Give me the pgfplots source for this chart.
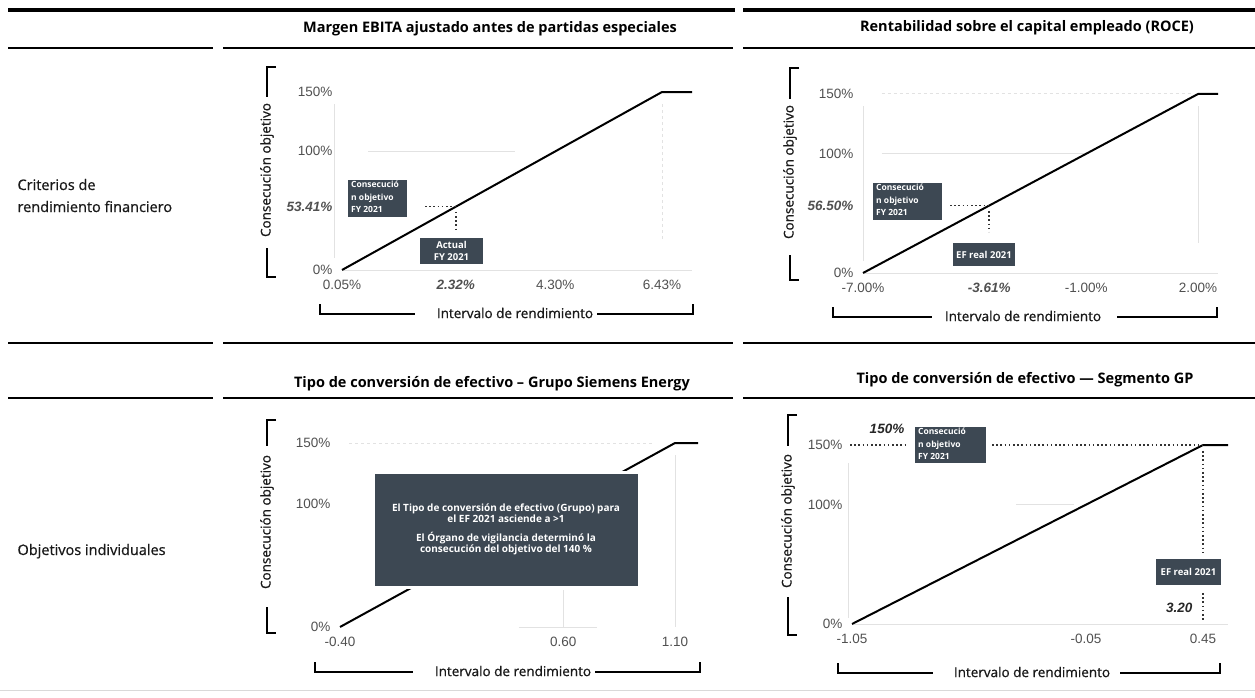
\documentclass[border=0pt]{standalone}
\usepackage{pgfplots}
\pgfplotsset{compat=1.18}
\usepackage{fontspec}
\setmainfont{Open Sans}
\newfontfamily\medfont[FakeBold=0.8]{Open Sans}
\newfontfamily\tickfont{Liberation Sans}
\definecolor{boxc}{HTML}{3D4853}
\definecolor{tickc}{HTML}{505050}
\definecolor{faint}{HTML}{E2E2E2}
\pgfplotsset{
  kpi/.style={
    scale only axis, anchor=south west, clip=false,
    ymin=0, ymax=150, scaled ticks=false,
    axis line style={draw=none}, major tick length=0pt, tick style={draw=none},
    ticklabel style={font=\tickfont\fontsize{13.5}{13.5}\selectfont, text=tickc},
    xticklabel style={yshift=-7pt},
    yticklabel style={xshift=-6pt},
  },
  mainline/.style={black, line width=2pt, no markers},
  guide/.style={black!80, line width=1.6pt, dash pattern=on 1.6pt off 2.6pt, no markers},
  faintline/.style={faint, line width=1pt, no markers},
}
\tikzset{
  lbl/.style={font=\medfont\fontsize{13.5}{13.5}\selectfont, text=black!90},
  rowl/.style={font=\medfont\fontsize{14.5}{14.5}\selectfont, text=black!90},
  ttl/.style={font=\bfseries\fontsize{14.5}{14.5}\selectfont, anchor=base},
  bxt/.style={text=white, font=\bfseries\fontsize{8.5}{12.5}\selectfont, align=left, anchor=north west, inner sep=0pt},
  bx/.style={fill=boxc, draw=white, line width=1.5pt},
  br/.style={black, line width=1.6pt},
}
\begin{document}
\begin{tikzpicture}
\path[use as bounding box] (0pt,0pt) rectangle (1255pt,-698pt);

% Chart 1
\begin{axis}[kpi, at={(342pt,-270pt)}, width=350pt, height=178pt, xmin=0.05, xmax=7.028,
  xtick={0.05,2.32,4.30,6.43}, xticklabels={0.05\%,\textbf{\textit{2.32\%}},4.30\%,6.43\%},
  ytick={0,53.41,100,150}, yticklabels={0\%,\textbf{\textit{53.41\%}},100\%,150\%}]
  \addplot[faintline] coordinates {(0.568,100) (3.5,100)};
  \addplot[faintline, dashed] coordinates {(6.43,140) (6.43,25)};
  \addplot[faintline] coordinates {(0.05,0) (7.03,0)};
  \addplot[faintline] coordinates {(-0.1,10) (-0.1,140)};
  \addplot[mainline] coordinates {(0.05,0) (6.43,150) (7.028,150)};
  \addplot[guide] coordinates {(1.705,53.41) (2.32,53.41)};
  \addplot[guide] coordinates {(2.32,49) (2.32,32)};
\end{axis}

% Chart 2
\begin{axis}[kpi, at={(863pt,-273pt)}, width=355pt, height=179pt, xmin=-7, xmax=2.537,
  xtick={-7,-3.61,-1,2}, xticklabels={-7.00\%,\textbf{\textit{-3.61\%}},-1.00\%,2.00\%},
  ytick={0,56.5,100,150}, yticklabels={0\%,\textbf{\textit{56.50\%}},100\%,150\%}]
  \addplot[faintline, dashed] coordinates {(-6.5,150) (1.8,150)};
  \addplot[faintline] coordinates {(-6.5,100) (-1,100)};
  \addplot[faintline] coordinates {(-7,0) (2.537,0)};
  \addplot[faintline] coordinates {(2,140) (2,25)};
  \addplot[faintline] coordinates {(-7,10) (-7,140)};
  \addplot[mainline] coordinates {(-7,0) (2,150) (2.537,150)};
  \addplot[guide] coordinates {(-4.663,56.5) (-3.61,56.5)};
  \addplot[guide] coordinates {(-3.61,52) (-3.61,34.4)};
\end{axis}

% Chart 3
\begin{axis}[kpi, at={(340pt,-627pt)}, width=358pt, height=184pt, xmin=-0.4, xmax=1.203,
  xtick={-0.4,0.6,1.1}, xticklabels={-0.40,0.60,1.10},
  ytick={0,100,150}, yticklabels={0\%,100\%,150\%}]
  \addplot[faintline, dashed] coordinates {(-0.36,150) (1.0,150)};
  \addplot[faintline] coordinates {(0.6,0) (0.6,30)};
  \addplot[faintline] coordinates {(1.1,0) (1.1,140)};
  \addplot[faintline] coordinates {(0.4,0) (0.75,0)};
  \addplot[mainline] coordinates {(-0.4,0) (1.1,150) (1.203,150)};
\end{axis}

% Chart 4
\begin{axis}[kpi, at={(852pt,-624pt)}, width=376pt, height=179pt, xmin=-1.05, xmax=0.557,
  xtick={-1.05,-0.05,0.45}, xticklabels={-1.05,-0.05,0.45},
  ytick={0,100,150}, yticklabels={0\%,100\%,150\%}]
  \addplot[faintline] coordinates {(-1.05,0) (0.557,0)};
  \addplot[faintline] coordinates {(-1.065,5) (-1.065,135)};
  \addplot[faintline] coordinates {(-0.35,100) (-0.1,100)};
  \addplot[mainline] coordinates {(-1.05,0) (0.45,150) (0.557,150)};
  \addplot[guide] coordinates {(-1.0585,150) (-0.815,150)};
  \addplot[guide] coordinates {(-0.4517,150) (0.45,150)};
  \addplot[guide] coordinates {(0.45,145) (0.45,59.5)};
  \addplot[guide] coordinates {(0.45,26) (0.45,1.7)};
\end{axis}

\begin{scope}[x=1pt,y=-1pt]
% rules
\draw[line width=4pt] (8,10) -- (735,10);
\draw[line width=4pt] (743,10) -- (1255,10);
\foreach \yy in {48,343,398}{
  \draw[line width=1.8pt] (8,\yy) -- (213,\yy);
  \draw[line width=1.8pt] (223,\yy) -- (733,\yy);
  \draw[line width=1.8pt] (743,\yy) -- (1255,\yy);
}
\draw[black!15, line width=1pt] (0,690) -- (1255,690);

% titles
\node[ttl] at (490,33) {Margen EBITA ajustado antes de partidas especiales};
\node[ttl] at (1027,32) {Rentabilidad sobre el capital empleado (ROCE)};
\node[ttl] at (492,387) {Tipo de conversión de efectivo – Grupo Siemens Energy};
\node[ttl] at (1025,383) {Tipo de conversión de efectivo — Segmento GP};

% row labels
\node[rowl, anchor=base west] at (14,190) {Criterios de};
\node[rowl, anchor=base west] at (14,212) {rendimiento financiero};
\node[rowl, anchor=base west] at (14,555) {Objetivos individuales};

% y brackets and labels
\foreach \bx/\ta/\tb/\ba/\bb/\tc in {267/67/97/248/277/170, 790/68/99/255/280/172, 267/420/446/607/633/522, 788/415/446/597/635/521}{
  \draw[br] (\bx+9,\ta) -- (\bx,\ta) -- (\bx,\tb);
  \draw[br] (\bx,\ba) -- (\bx,\bb) -- (\bx+9,\bb);
  \node[lbl, rotate=90] at (\bx,\tc) {Consecución objetivo};
}
% x brackets and labels
\foreach \la/\lb/\ra/\rb/\yy/\cx in {320/415/597/693/314/515, 833/932/1117/1217/317/1023, 315/413/595/700/672/513, 838/933/1120/1220/673/1032}{
  \draw[br] (\la,\yy-10) -- (\la,\yy) -- (\lb,\yy);
  \draw[br] (\ra,\yy) -- (\rb,\yy) -- (\rb,\yy-10);
  \node[lbl] at (\cx,\yy-1) {Intervalo de rendimiento};
}

% chart 1 boxes
\fill[boxc] (348,180) rectangle (407,217);
\begin{scope}\clip (348,180) rectangle (407,217);
  \node[bxt] at (351,181) {Consecució\\n objetivo\\FY 2021};
\end{scope}
\node[bx, minimum width=65pt, minimum height=28pt, text=white, font=\bfseries\fontsize{9.5}{12}\selectfont, align=center, inner sep=0pt] at (451.5,251) {Actual\\FY 2021};

% chart 2 boxes
\fill[boxc] (873,183) rectangle (942,220);
\begin{scope}\clip (873,183) rectangle (942,220);
  \node[bxt] at (876,184) {Consecució\\n objetivo\\FY 2021};
\end{scope}
\node[bx, minimum width=64pt, minimum height=25pt, text=white, font=\bfseries\fontsize{9.5}{12}\selectfont, inner sep=0pt] at (984,254.5) {EF real 2021};

% chart 3 box
\node[bx, line width=3pt, minimum width=266pt, minimum height=115pt, text=white, font=\bfseries\fontsize{10}{10.5}\selectfont, align=center, inner sep=0pt] at (506,529.5)
  {El Tipo de conversión de efectivo (Grupo) para\\el EF 2021 asciende a >1\\[9pt]El Órgano de vigilancia determinó la\\consecución del objetivo del 140~\%};

% chart 4 boxes
\fill[boxc] (915,427) rectangle (986,463);
\begin{scope}\clip (915,427) rectangle (986,463);
  \node[bxt] at (918,428) {Consecució\\n objetivo\\FY 2021};
\end{scope}
\node[bx, minimum width=67pt, minimum height=28pt, text=white, font=\bfseries\fontsize{9.5}{12}\selectfont, inner sep=0pt] at (1188.5,572) {EF real 2021};
\node[font=\tickfont\bfseries\itshape\fontsize{13.5}{13.5}\selectfont, text=black!85] at (887,429) {150\%};
\node[font=\tickfont\bfseries\itshape\fontsize{13.5}{13.5}\selectfont, text=black!85, anchor=east] at (1196,608) {3.20};
\end{scope}
\end{tikzpicture}
\end{document}
